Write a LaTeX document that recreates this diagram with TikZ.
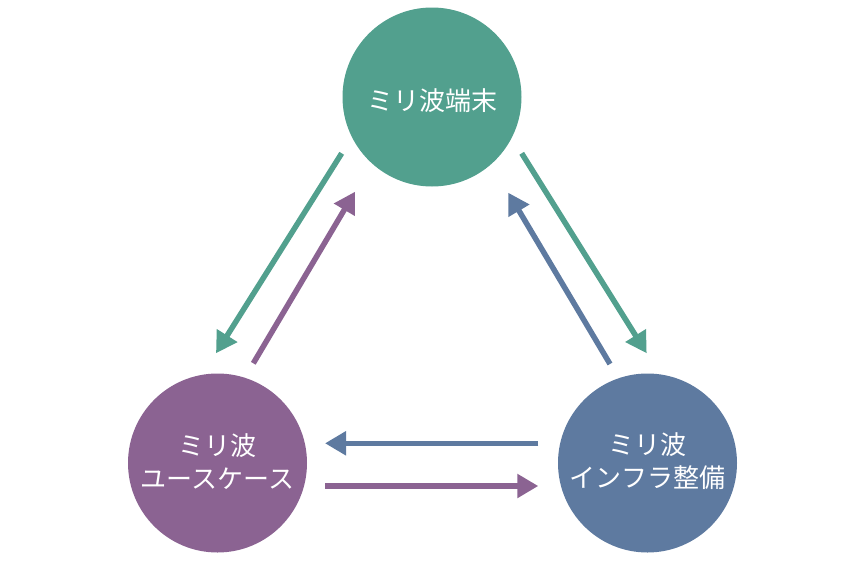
\documentclass[tikz,border=0pt]{standalone}
\usepackage{fontspec}
\newfontfamily\jp{Noto Sans CJK JP}
\usetikzlibrary{arrows.meta}
\definecolor{cgreen}{RGB}{82,160,142}
\definecolor{cpurple}{RGB}{139,99,146}
\definecolor{cblue}{RGB}{94,122,160}
\begin{document}
\begin{tikzpicture}[x=1pt,y=-1pt,
  circ/.style={circle, minimum size=179pt, inner sep=0pt},
  lbl/.style={text=white, font=\jp\fontsize{26}{33}\selectfont, align=center},
  arr/.style={line width=5.5pt, -{Triangle[length=21pt,width=23pt]}}]
\useasboundingbox (0,0) rectangle (860,560);
\node[circ, fill=cgreen]  (top)   at (432,97)  {};
\node[circ, fill=cpurple] (left)  at (217.5,463) {};
\node[circ, fill=cblue]   (right) at (647.5,463) {};
\node[lbl] (ttop) at (432,101) {ミリ波端末};
\node[lbl] (tleft) at (217.5,461.5) {ミリ波\\ユースケース};
\node[lbl] (tright) at (647.5,461.5) {ミリ波\\インフラ整備};
% arrow end points
\coordinate (g1s) at (341.7,153.3);
\coordinate (g1e) at (216,353.3);
\coordinate (p1s) at (253.3,363.3);
\coordinate (p1e) at (355,191.7);
\coordinate (g2s) at (521.7,153.3);
\coordinate (g2e) at (646.7,353.3);
\coordinate (b2s) at (610,364);
\coordinate (b2e) at (508.3,192.7);
\coordinate (b3s) at (538.3,443.3);
\coordinate (b3e) at (325,443.3);
\coordinate (p3s) at (325,486);
\coordinate (p3e) at (538.3,486);
\draw[arr, cgreen]  (g1s) -- (g1e);
\draw[arr, cpurple] (p1s) -- (p1e);
\draw[arr, cgreen]  (g2s) -- (g2e);
\draw[arr, cblue]   (b2s) -- (b2e);
\draw[arr, cblue]   (b3s) -- (b3e);
\draw[arr, cpurple] (p3s) -- (p3e);
\end{tikzpicture}
\end{document}
